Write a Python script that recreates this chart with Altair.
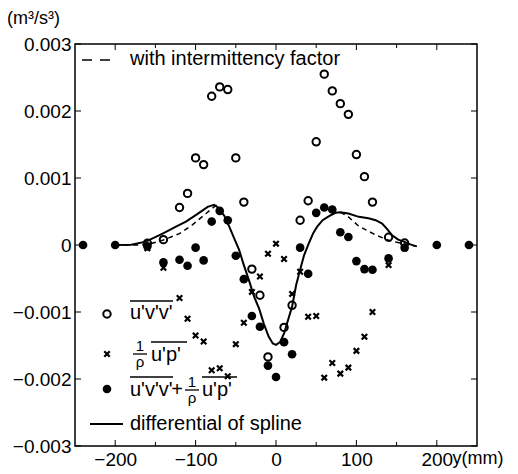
import altair as alt
import pandas as pd

FONT = "Liberation Sans"

# open circles: u'v'v'
circ_pos = [-160, -140, -120, -110, -100, -90, -80, -70, -60, -50, -40, -30, -20, -10,
            10, 20, 30, 40, 50, 60, 70, 80, 90, 100, 110, 120, 140, 160]
circ_val = [0.000025, 0.00008, 0.00056, 0.00077, 0.0013, 0.0012, 0.00222, 0.00236, 0.00232,
            0.0013, 0.00064, -0.00036, -0.00075, -0.00167,
            -0.00123, -0.0009, 0.00037, 0.00066, 0.00154, 0.00255, 0.0023, 0.00211, 0.00195,
            0.00135, 0.00102, 0.00064, 0.000115, 0.00003]

# crosses: 1/rho u'p'
cross_pos = [-160, -140, -120, -110, -100, -90, -80, -70, -60, -50, -40, -30, -20, -10, 0,
             10, 20, 30, 40, 50, 60, 70, 80, 90, 100, 110, 120, 140, 160]
cross_val = [-0.00005, -0.00034, -0.00079, -0.0011, -0.00135, -0.00144, -0.00187, -0.00184,
             -0.00196, -0.00148, -0.00116, -0.0007, -0.00047, -0.00013, 0.00002,
             -0.00021, -0.00073, -0.0004, -0.00107, -0.00106, -0.00198, -0.00176, -0.00192,
             -0.00183, -0.00158, -0.00137, -0.001, -0.0003, -0.00005]

# filled circles: sum
dot_pos = [-240, -200, -160, -140, -120, -110, -100, -90, -80, -70, -60, -50, -40, -30, -20,
           -10, 0, 10, 20, 30, 40, 50, 60, 70, 80, 90, 100, 110, 120, 140, 160, 200, 240]
dot_val = [0.0, 0.0, -0.00002, -0.00026, -0.00022, -0.00031, -0.00004, -0.00023, 0.00035,
           0.00051, 0.00037, -0.00016, -0.00051, -0.00106, -0.00122,
           -0.0018, -0.00197, -0.00145, -0.00163, -0.00004, -0.00043, 0.00048, 0.00056,
           0.00053, 0.00019, 0.00012, -0.00024, -0.00036, -0.00037, -0.0002, -0.00004, 0.0, 0.0]

# differential of spline (solid)
spl_pos = [-200, -180, -162, -141, -125, -112, -98, -85, -77, -71, -64, -58, -52, -46, -40,
           -33, -27, -21, -15, -9, -4, 0, 5, 10, 15, 20, 25, 30, 35, 41, 46, 51, 58, 66, 74,
           80, 90, 103, 115, 124, 132, 138, 144, 152, 159, 167, 175]
spl_val = [0.0, 0.000005, 0.00005, 0.00017, 0.00027, 0.00035, 0.00046, 0.00057, 0.0006,
           0.00055, 0.00043, 0.00027, 0.0001, -0.00007, -0.0003,
           -0.00055, -0.00078, -0.00095, -0.00118, -0.00137, -0.00147, -0.00149, -0.00145,
           -0.00132, -0.00112, -0.00092, -0.0006, -0.00037, -0.00015, 0.00003, 0.00017,
           0.00027, 0.00037, 0.00043, 0.00048,
           0.00049, 0.00047, 0.00042, 0.0004, 0.00037, 0.00032, 0.00024, 0.00015, 0.00008,
           0.00005, 0.00001, -0.00002]

# with intermittency factor (dashed)
dashL_pos = [-200, -180, -162, -141, -120, -104, -87, -77, -73]
dashL_val = [0.0, 0.0, 0.0, 0.00007, 0.00017, 0.0003, 0.00047, 0.00057, 0.0006]
dashR_pos = [80, 90, 103, 124, 140, 161, 175]
dashR_val = [0.00049, 0.00042, 0.00028, 0.00015, 0.00007, 0.00001, -0.00002]

x_major = [-200, -100, 0, 100, 200]
x_minor = [-150, -50, 50, 150]
y_major = [-0.003, -0.002, -0.001, 0, 0.001, 0.002, 0.003]

W = 402
H = 402

X = alt.X("pos:Q", scale=alt.Scale(domain=[-250, 250], nice=False, zero=False),
          axis=alt.Axis(values=x_major, ticks=False, domain=False, grid=False,
                        labelPadding=4, title="y(mm)", titleAlign="left",
                        titleX=377, titleY=12, titleBaseline="middle",
                        titleFontWeight="normal", titleFontSize=18))
Y = alt.Y("val:Q", scale=alt.Scale(domain=[-0.003, 0.003], nice=False, zero=False),
          axis=alt.Axis(values=y_major, format=".3~f", ticks=False, domain=False,
                        grid=False, labelPadding=4, title="(m³/s³)", titleAngle=0,
                        titleAlign="center", titleX=-42, titleY=-26,
                        titleBaseline="middle", titleFontWeight="normal", titleFontSize=18))


def df(p, v):
    return pd.DataFrame({"pos": p, "val": v})


one = pd.DataFrame({"k": [0]})

spline = alt.Chart(df(spl_pos, spl_val)).mark_line(color="black", strokeWidth=2).encode(
    x=X, y=Y, order="pos:Q")
dashL = alt.Chart(df(dashL_pos, dashL_val)).mark_line(
    color="black", strokeWidth=1.5, strokeDash=[5, 4]).encode(x=X, y=Y, order="pos:Q")
dashR = alt.Chart(df(dashR_pos, dashR_val)).mark_line(
    color="black", strokeWidth=1.5, strokeDash=[5, 4]).encode(x=X, y=Y, order="pos:Q")

circles = alt.Chart(df(circ_pos, circ_val)).mark_point(
    shape="circle", filled=False, color="black", size=55, strokeWidth=2, opacity=1).encode(x=X, y=Y)
CROSS = "M-1,-1L1,1M1,-1L-1,1"
crosses = alt.Chart(df(cross_pos, cross_val)).mark_point(
    shape=CROSS, filled=False, color="black", size=30, strokeWidth=2.2, opacity=1).encode(x=X, y=Y)
dots = alt.Chart(df(dot_pos, dot_val)).mark_circle(
    color="black", size=75, opacity=1).encode(x=X, y=Y)

# inward ticks
xt_bot = alt.Chart(pd.DataFrame({"pos": x_major})).mark_rule(color="black", strokeWidth=1).encode(
    x=X, y=alt.value(H), y2=alt.value(H - 6))
xt_top = alt.Chart(pd.DataFrame({"pos": x_major})).mark_rule(color="black", strokeWidth=1).encode(
    x=X, y=alt.value(0), y2=alt.value(6))
xm_bot = alt.Chart(pd.DataFrame({"pos": x_minor})).mark_rule(color="black", strokeWidth=1).encode(
    x=X, y=alt.value(H), y2=alt.value(H - 4))
xm_top = alt.Chart(pd.DataFrame({"pos": x_minor})).mark_rule(color="black", strokeWidth=1).encode(
    x=X, y=alt.value(0), y2=alt.value(4))
yt_l = alt.Chart(pd.DataFrame({"val": y_major})).mark_rule(color="black", strokeWidth=1).encode(
    y=Y, x=alt.value(0), x2=alt.value(6))
yt_r = alt.Chart(pd.DataFrame({"val": y_major})).mark_rule(color="black", strokeWidth=1).encode(
    y=Y, x=alt.value(W), x2=alt.value(W - 6))

# legend pieces
leg_labels = ["with intermittency factor", "u'v'v'", "u'p'", "1", "ρ", "+", "differential of spline"]


def txt(label, x, y, size=20, align="left"):
    return alt.Chart(pd.DataFrame({"t": [label]})).mark_text(
        font=FONT, fontSize=size, align=align, baseline="middle", color="black").encode(
        text="t:N", x=alt.value(x), y=alt.value(y))


def hline(x1, x2, y, dash=None, sw=1.3):
    kw = dict(color="black", strokeWidth=sw)
    if dash:
        kw["strokeDash"] = dash
    return alt.Chart(one).mark_rule(**kw).encode(x=alt.value(x1), x2=alt.value(x2), y=alt.value(y))


leg = [
    hline(7, 35, 16, dash=[10, 8], sw=1.6),
    txt(leg_labels[0], 55, 15),
    alt.Chart(one).mark_point(shape="circle", filled=False, color="black", size=55,
                              strokeWidth=2, opacity=1).encode(x=alt.value(32), y=alt.value(270)),
    txt(leg_labels[1], 55, 269),
    hline(55, 98, 257),
    alt.Chart(one).mark_point(shape=CROSS, filled=False, color="black", size=30,
                              strokeWidth=2.2, opacity=1).encode(x=alt.value(32), y=alt.value(310)),
    txt(leg_labels[3], 65, 302, size=15, align="center"),
    txt(leg_labels[4], 65, 318, size=15, align="center"),
    hline(58, 72, 310),
    txt(leg_labels[2], 76, 311),
    hline(76, 112, 298),
    alt.Chart(one).mark_circle(color="black", size=75, opacity=1).encode(
        x=alt.value(32), y=alt.value(345)),
    txt(leg_labels[1], 55, 346),
    hline(55, 98, 333),
    txt(leg_labels[5], 102, 346, align="center"),
    txt(leg_labels[3], 117, 338, size=15, align="center"),
    txt(leg_labels[4], 117, 354, size=15, align="center"),
    hline(110, 124, 346),
    txt(leg_labels[2], 127, 346),
    hline(127, 162, 333),
    hline(15, 48, 380, sw=2),
    txt(leg_labels[6], 55, 380),
]

chart = alt.layer(
    xt_bot, xt_top, xm_bot, xm_top, yt_l, yt_r,
    dashL, dashR, spline, circles, crosses, dots, *leg
).properties(
    width=W, height=H,
    autosize=alt.AutoSizeParams(type="none"),
    padding={"left": 67, "top": 36, "right": 33, "bottom": 24},
).configure_view(
    stroke="black", strokeWidth=1.5
).configure_axis(
    labelFont=FONT, labelFontSize=19, labelColor="black",
    titleFont=FONT, titleFontSize=19, titleColor="black",
)

chart.save("out.html", embed_options={"renderer": "svg", "actions": False})
